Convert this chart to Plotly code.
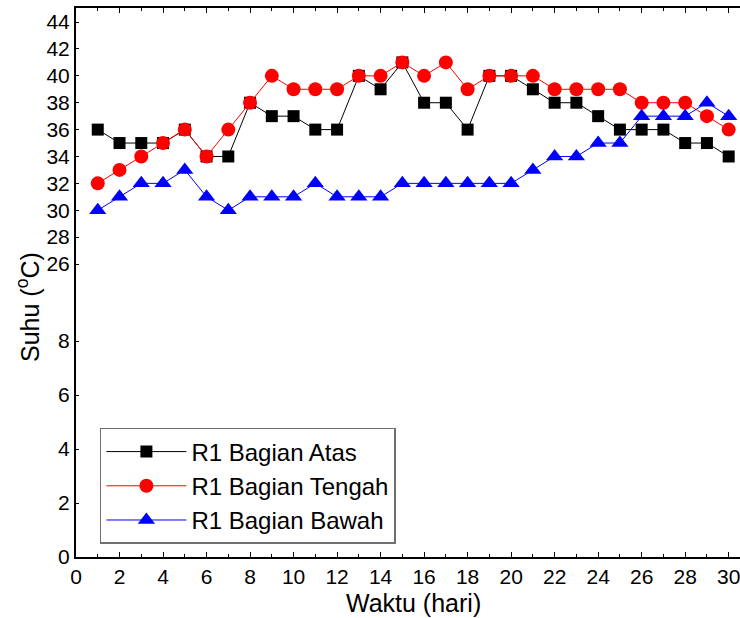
import plotly.graph_objects as go

days = list(range(1, 31))
atas = [36, 35, 35, 35, 36, 34, 34, 38, 37, 37, 36, 36, 40, 39, 41, 38, 38, 36, 40, 40,
        39, 38, 38, 37, 36, 36, 36, 35, 35, 34]
tengah = [32, 33, 34, 35, 36, 34, 36, 38, 40, 39, 39, 39, 40, 40, 41, 40, 41, 39, 40, 40,
          40, 39, 39, 39, 39, 38, 38, 38, 37, 36]
bawah = [30, 31, 32, 32, 33, 31, 30, 31, 31, 31, 32, 31, 31, 31, 32, 32, 32, 32, 32, 32,
         33, 34, 34, 35, 35, 37, 37, 37, 38, 37]
y_ticks = [0, 2, 4, 6, 8, 26, 28, 30, 32, 34, 36, 38, 40, 42, 44]
series_names = ["R1 Bagian Atas", "R1 Bagian Tengah", "R1 Bagian Bawah"]


# broken (piecewise linear) y scale: 0-8 lower segment, 26-44 upper segment
def yscale(v):
    if v <= 8:
        return v * 27.0
    return 293.0 + (v - 26) * 13.44


FONT = "Liberation Sans, Arial, sans-serif"

fig = go.Figure()
styles = [
    (atas, "black", "square", 12),
    (tengah, "#ff0000", "circle", 14),
    (bawah, "#0000ff", "triangle-up", 15),
]
for name, (vals, col, sym, sz) in zip(series_names, styles):
    fig.add_trace(go.Scatter(
        x=days, y=[yscale(v) for v in vals], mode="lines+markers", name=name,
        line=dict(color=col, width=1),
        marker=dict(symbol=sym, size=sz, color=col),
    ))

fig.update_layout(
    width=740, height=618,
    margin=dict(l=76, r=0, t=8, b=61),
    plot_bgcolor="white", paper_bgcolor="white",
    font=dict(family=FONT, color="black"),
    showlegend=True,
    legend=dict(
        x=0.036, y=0.235, xanchor="left", yanchor="top",
        bgcolor="white", bordercolor="#707070", borderwidth=1.5,
        font=dict(family=FONT, size=24, color="black"),
        tracegroupgap=0, itemwidth=80,
    ),
    xaxis=dict(
        range=[0, 30.52], dtick=2, tick0=0,
        showgrid=False, zeroline=False,
        showline=True, linecolor="black", linewidth=2, mirror="ticks",
        ticks="inside", ticklen=5, tickcolor="black",
        minor=dict(dtick=1, ticks="inside", ticklen=3, tickcolor="black"),
        tickfont=dict(family=FONT, size=21, color="black"),
        ticklabeloverflow="allow",
    ),
    yaxis=dict(
        range=[0, 549],
        tickvals=[yscale(v) for v in y_ticks],
        ticktext=[str(v) for v in y_ticks],
        showgrid=False, zeroline=False,
        showline=True, linecolor="black", linewidth=2, mirror=False,
        ticks="inside", ticklen=3, tickcolor="black",
        ticklabelstandoff=0,
        tickfont=dict(family=FONT, size=21, color="black"),
    ),
    annotations=[
        dict(text="Waktu (hari)", x=413, y=603, xref="paper", yref="paper",
             showarrow=False, font=dict(family=FONT, size=25, color="black")),
        dict(text="Suhu (<sup>o</sup>C)", x=28, y=307, textangle=-90,
             showarrow=False, font=dict(family=FONT, size=25, color="black")),
    ],
)

# convert pixel-located annotations to paper coords
W, H = 740, 618
L, R, T, B = 76, 0, 8, 61
pw, ph = W - L - R, H - T - B
anns = []
for a in fig.layout.annotations:
    px, py = a.x, a.y
    a.update(xref="paper", yref="paper",
             x=(px - L) / pw, y=(H - B - py) / ph,
             xanchor="center", yanchor="middle")
    anns.append(a)
fig.layout.annotations = anns

fig.write_html("out.html")
